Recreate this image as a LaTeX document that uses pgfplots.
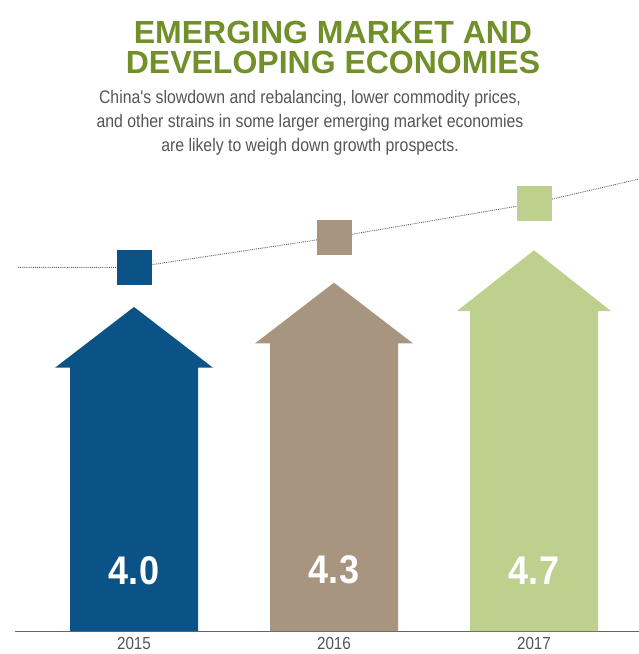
\documentclass[border=0pt]{standalone}
\usepackage{fontspec}
\setmainfont{Liberation Sans}
\newfontfamily\narrow[FakeStretch=0.87]{Liberation Sans}
\newfontfamily\valfont[FakeStretch=0.9]{Liberation Sans}
\usepackage{pgfplots}
\pgfplotsset{compat=1.18}

\definecolor{emblue}{HTML}{0B5386}
\definecolor{emtaupe}{HTML}{A8957F}
\definecolor{emgreen}{HTML}{BDD08E}
\definecolor{titlegreen}{HTML}{71902A}
\definecolor{subgray}{HTML}{555555}

\begin{document}
\begin{tikzpicture}
\begin{axis}[
    scale only axis,
    width=639pt, height=631pt,
    xmin=-0.67, xmax=2.525,
    ymin=0, ymax=7.79,
    axis line style={draw=none},
    major tick length=0pt,
    ytick=\empty,
    xtick={0,1,2},
    xticklabels={2015,2016,2017},
    xticklabel style={font=\narrow\fontsize{17.5}{17.5}\selectfont, text=subgray, inner sep=1pt, yshift=-5pt},
    clip=false,
]
% baseline
\addplot[gray!80!black, line width=0.8pt] coordinates {(-0.595,0) (2.525,0)};

% arrows: shaft up to head base, head apex at the value
\addplot[fill=emblue, draw=none] coordinates
  {(-0.32,0) (-0.32,3.25) (-0.395,3.25) (0,4.0) (0.395,3.25) (0.32,3.25) (0.32,0)} -- cycle;
\addplot[fill=emtaupe, draw=none] coordinates
  {(0.68,0) (0.68,3.55) (0.605,3.55) (1,4.3) (1.395,3.55) (1.32,3.55) (1.32,0)} -- cycle;
\addplot[fill=emgreen, draw=none] coordinates
  {(1.68,0) (1.68,3.95) (1.615,3.95) (2,4.7) (2.385,3.95) (2.32,3.95) (2.32,0)} -- cycle;

% dotted trend line and squares
\addplot[densely dotted, line width=0.9pt, gray!75!black] coordinates
  {(-0.58,4.49) (0,4.49) (1,4.86) (2,5.28) (2.525,5.58)};
\addplot[only marks, mark=square*, mark size=17pt, mark options={fill=emblue, draw=emblue}] coordinates {(0,4.49)};
\addplot[only marks, mark=square*, mark size=17pt, mark options={fill=emtaupe, draw=emtaupe}] coordinates {(1,4.86)};
\addplot[only marks, mark=square*, mark size=17pt, mark options={fill=emgreen, draw=emgreen}] coordinates {(2,5.28)};

% values
\node[text=white, font=\valfont\bfseries\fontsize{40}{40}\selectfont] at (axis cs:0,0.75) {4.0};
\node[text=white, font=\valfont\bfseries\fontsize{40}{40}\selectfont] at (axis cs:1,0.75) {4.3};
\node[text=white, font=\valfont\bfseries\fontsize{40}{40}\selectfont] at (axis cs:2,0.75) {4.7};
\end{axis}

% title and subtitle
\node[text=titlegreen, font=\bfseries\fontsize{32}{30}\selectfont, align=center] at (333pt,584pt)
  {EMERGING MARKET AND\\DEVELOPING ECONOMIES};
\node[text=subgray, font=\narrow\fontsize{18.2}{24.2}\selectfont, align=center] at (310pt,508pt)
  {China's slowdown and rebalancing, lower commodity prices,\\
   and other strains in some larger emerging market economies\\
   are likely to weigh down growth prospects.};

\pgfresetboundingbox
\useasboundingbox (0,-23pt) rectangle (639pt,631pt);
\end{tikzpicture}
\end{document}
